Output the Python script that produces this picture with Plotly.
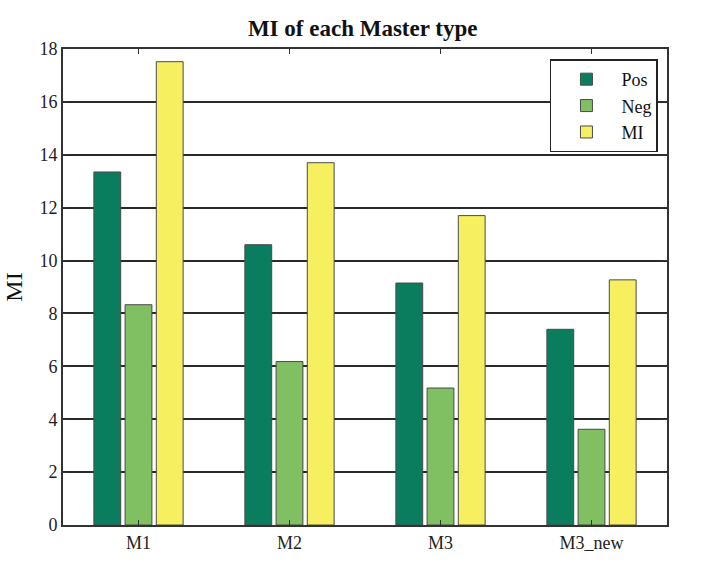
import plotly.graph_objects as go

categories = ["M1", "M2", "M3", "M3_new"]
pos_vals = [13.35, 10.6, 9.15, 7.4]
neg_vals = [8.33, 6.18, 5.18, 3.62]
mi_vals = [17.52, 13.7, 11.7, 9.27]
y_ticks = [0, 2, 4, 6, 8, 10, 12, 14, 16, 18]

serif = "Liberation Serif"
outline = dict(color="#4a4a4a", width=1)

fig = go.Figure()
fig.add_trace(go.Bar(name="Pos", x=categories, y=pos_vals,
                     marker=dict(color="#0b7d5f", line=outline)))
fig.add_trace(go.Bar(name="Neg", x=categories, y=neg_vals,
                     marker=dict(color="#80c062", line=outline)))
fig.add_trace(go.Bar(name="MI", x=categories, y=mi_vals,
                     marker=dict(color="#f6ef60", line=outline)))

fig.update_layout(
    width=721, height=574,
    margin=dict(l=63, r=54, t=49, b=49),
    paper_bgcolor="white", plot_bgcolor="white",
    barmode="group", bargap=0.38, bargroupgap=0.14,
    title=dict(text="<b>MI of each Master type</b>", x=0.503, xanchor="center",
               y=0.951, yanchor="middle",
               font=dict(family=serif, size=23, color="#111")),
    font=dict(family=serif, size=18, color="#222"),
    legend=dict(x=0.985, y=0.978, xanchor="right", yanchor="top",
                bgcolor="white", bordercolor="#222", borderwidth=1.5,
                font=dict(family=serif, size=18, color="#111"),
                tracegroupgap=0, itemwidth=60),
    showlegend=True,
)
fig.update_xaxes(
    showline=True, linecolor="#333", linewidth=2, mirror="ticks",
    ticks="inside", ticklen=5, tickcolor="#333",
    showgrid=False, tickfont=dict(family=serif, size=18, color="#222"),
    range=[-0.5, 3.5],
)
fig.update_yaxes(
    range=[0, 18], tickvals=y_ticks,
    showline=True, linecolor="#333", linewidth=2, mirror="ticks",
    ticks="inside", ticklen=5, tickcolor="#333",
    showgrid=True, gridcolor="#2a2a2a", gridwidth=2,
    zeroline=False,
    tickfont=dict(family=serif, size=18, color="#222"),
    title=dict(text="MI", font=dict(family=serif, size=24, color="#111"), standoff=10),
)

fig.write_html("out.html")
